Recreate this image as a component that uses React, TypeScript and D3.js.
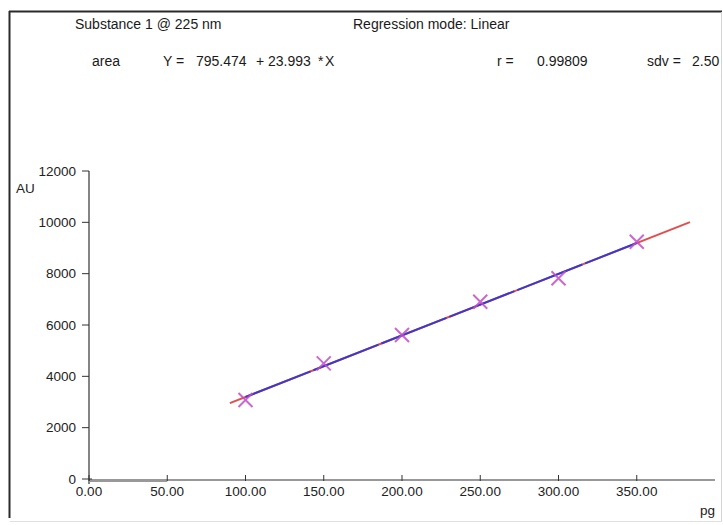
import React from "react";
import * as d3 from "d3";

// calibration standards (amount in pg) and measured area
const amounts = [100, 150, 200, 250, 300, 350];
const areas = [3080, 4505, 5610, 6905, 7820, 9245];

// regression result printed in the header
const intercept = 795.474;
const slope = 23.993;
const fitRange = [90, 384];

const xTicks = [0, 50, 100, 150, 200, 250, 300, 350];
const yTicks = [0, 2000, 4000, 6000, 8000, 10000, 12000];

const width = 723;
const height = 525;
const font = "'Liberation Sans', Arial, sans-serif";

export default function App() {
  const x = d3.scaleLinear().domain([0, 400]).range([89, 715]);
  const y = d3.scaleLinear().domain([0, 12000]).range([479, 171]);
  const fit = (v: number) => intercept + slope * v;

  const line = d3
    .line<number>()
    .x((d) => x(d))
    .y((d) => y(fit(d)));

  const y0 = y(0);

  return (
    <svg
      width={width}
      height={height}
      style={{ position: "absolute", left: 0, top: 0, background: "#fff" }}
      fontFamily={font}
    >
      {/* sunken window frame: dark top/left, light right/bottom */}
      <line x1={9} x2={722} y1={11.5} y2={11.5} stroke="#2a2a2a" strokeWidth={2} />
      <line x1={9.5} x2={9.5} y1={11} y2={518} stroke="#2a2a2a" strokeWidth={2} />
      <line x1={721.5} x2={721.5} y1={12} y2={522} stroke="#d4d4d4" strokeWidth={1} />
      <line x1={10} x2={722} y1={521.5} y2={521.5} stroke="#e0e0e0" strokeWidth={1} />

      {/* header */}
      <g fontSize={14} fill="#1a1a1a">
        <text x={75} y={29}>Substance 1 @ 225 nm</text>
        <text x={353} y={29}>Regression mode: Linear</text>
        <text x={92} y={66}>area</text>
        <text x={163} y={66}>Y =</text>
        <text x={196} y={66}>795.474</text>
        <text x={256} y={66}>+</text>
        <text x={268} y={66}>23.993</text>
        <text x={318} y={66}>*</text>
        <text x={325} y={66}>X</text>
        <text x={497} y={66}>r =</text>
        <text x={537} y={66}>0.99809</text>
        <text x={647} y={66}>sdv =</text>
        <text x={692} y={66}>2.50</text>
      </g>

      {/* y axis */}
      <line x1={x(0)} x2={x(0)} y1={y(12000)} y2={y0 + 5} stroke="#333" strokeWidth={1.2} />
      {yTicks.map((t) => (
        <g key={"y" + t}>
          <line x1={x(0) - 7} x2={x(0) + (t === 0 ? 3 : 0)} y1={y(t)} y2={y(t)} stroke="#333" />
          <text x={x(0) - 13} y={y(t)} dy="0.35em" textAnchor="end" fontSize={13.5} fill="#222">
            {t}
          </text>
        </g>
      ))}
      <text x={16} y={193} fontSize={13.5} fill="#222">AU</text>

      {/* x axis */}
      <line x1={x(0)} x2={x(400)} y1={y0 + 1} y2={y0 + 1} stroke="#333" strokeWidth={1.2} />
      <line x1={x(0)} x2={x(50)} y1={y0 + 2.5} y2={y0 + 2.5} stroke="#999" strokeWidth={1} />
      {xTicks.map((t) => (
        <g key={"x" + t}>
          <line x1={x(t)} x2={x(t)} y1={y0 - 4} y2={y0 + 2} stroke="#333" />
          <text x={x(t)} y={y0 + 17} textAnchor="middle" fontSize={13.5} fill="#222">
            {t.toFixed(2)}
          </text>
        </g>
      ))}
      <text x={700} y={515} fontSize={13.5} fill="#222">pg</text>

      {/* regression line */}
      <path d={line(fitRange) ?? ""} stroke="#e05050" strokeWidth={2} fill="none" />
      <path
        d={line([amounts[0], amounts[amounts.length - 1]]) ?? ""}
        stroke="#3a3ad0"
        strokeWidth={2}
        strokeDasharray="70 3"
        fill="none"
      />

      {/* measured points */}
      {amounts.map((a, i) => {
        const cx = x(a);
        const cy = y(areas[i]);
        return (
          <g key={"p" + a} stroke="#c04cc8" strokeWidth={2} opacity={0.85}>
            <line x1={cx - 7} x2={cx + 7} y1={cy - 7} y2={cy + 7} />
            <line x1={cx - 7} x2={cx + 7} y1={cy + 7} y2={cy - 7} />
          </g>
        );
      })}
    </svg>
  );
}
